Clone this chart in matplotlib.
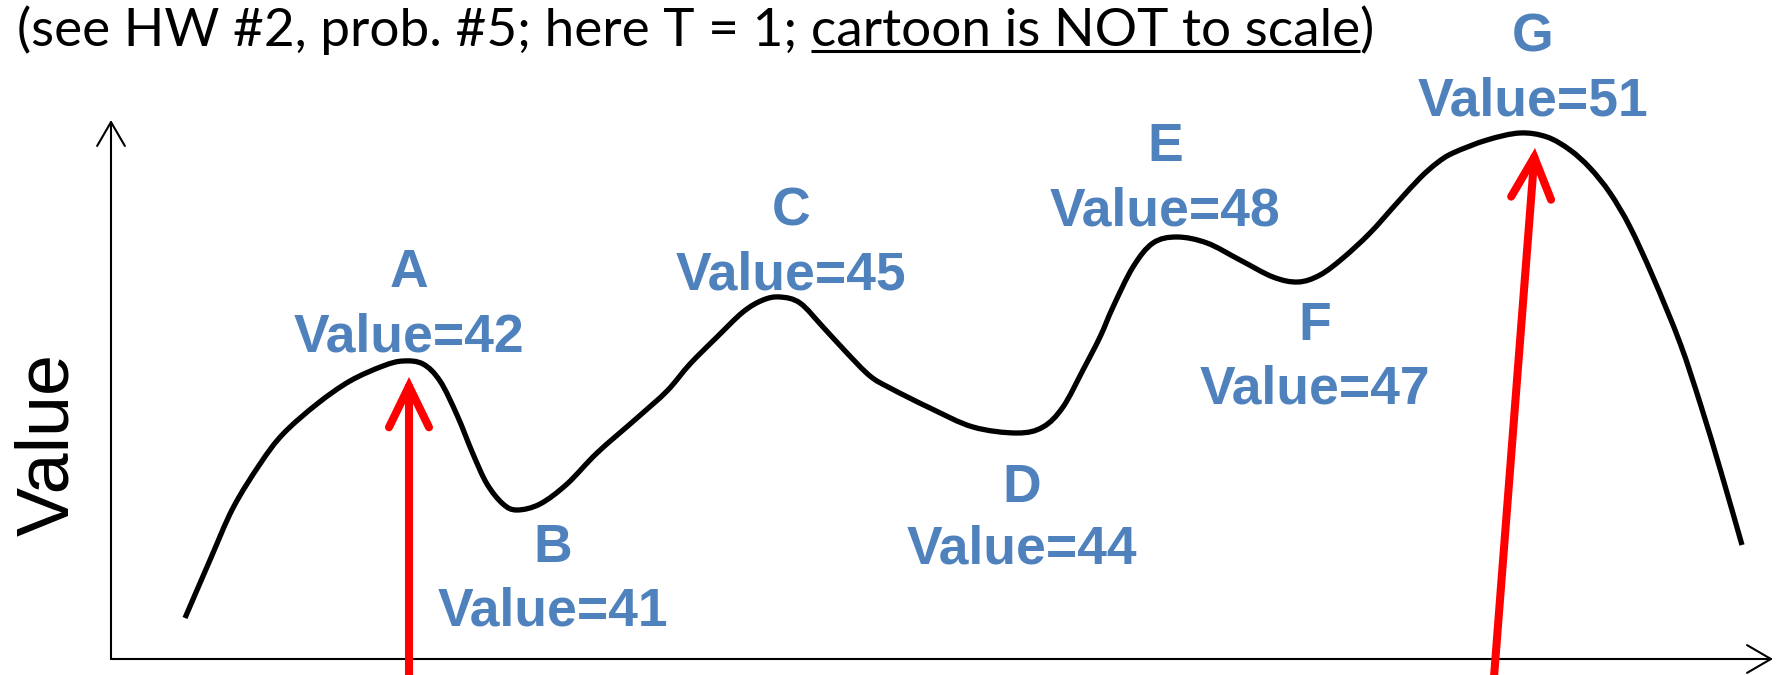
import matplotlib
matplotlib.use('Agg')
import matplotlib.pyplot as plt
from matplotlib.path import Path
from matplotlib.patches import PathPatch

# cartoon curve (x to the right, y downwards as in the image)
curve_x = [185, 210, 233, 260, 283, 317, 350, 383, 403, 423, 440, 457, 473, 487,
           503, 517, 540, 567, 597, 637, 667, 690, 717, 743, 763, 780, 800, 823,
           847, 870, 890, 930, 973, 1017, 1043, 1063, 1083, 1100, 1113, 1133, 1153,
           1177, 1207, 1240, 1273, 1298, 1320, 1343, 1370, 1397, 1420, 1437, 1453,
           1487, 1520, 1547, 1570, 1590, 1610, 1630, 1653, 1680, 1701, 1721, 1742]
curve_y = [618, 560, 508, 464, 434, 404, 381, 366, 361, 364, 381, 415, 454, 484,
           504, 510, 504, 484, 453, 418, 391, 364, 337, 312, 300, 297, 303, 327,
           353, 376, 388, 408, 427, 433, 427, 407, 370, 337, 307, 267, 243,
           237, 243, 260, 277, 282, 275, 258, 233, 203, 178, 163, 153,
           140, 133, 137, 150, 168, 193, 227, 277, 343, 406, 472, 545]

names = ['A', 'B', 'C', 'D', 'E', 'F', 'G']
values = [42, 41, 45, 44, 48, 47, 51]

# label layout (centre x, baseline of letter, baseline of value line)
label_x = [409, 553, 791, 1022, 1165, 1315, 1533]
letter_base = [287, 562, 225, 502, 161, 340, 52]
value_base = [351, 626, 289, 564, 226, 404, 115]

# red arrows: (tail x, tail y) -> (tip x, tip y)
arrow_tail = [(409, 690), (1493, 690)]
arrow_tip = [(409, 377), (1535, 148)]


def smooth_path(xs, ys):
    # Catmull-Rom through the read points, drawn as cubic Bezier pieces
    pts = list(zip(xs, ys))
    verts = [pts[0]]
    codes = [Path.MOVETO]
    n = len(pts)
    for i in range(n - 1):
        p0 = pts[i - 1] if i > 0 else pts[i]
        p1 = pts[i]
        p2 = pts[i + 1]
        p3 = pts[i + 2] if i + 2 < n else pts[i + 1]
        c1 = (p1[0] + (p2[0] - p0[0]) / 6, p1[1] + (p2[1] - p0[1]) / 6)
        c2 = (p2[0] - (p3[0] - p1[0]) / 6, p2[1] - (p3[1] - p1[1]) / 6)
        verts += [c1, c2, p2]
        codes += [Path.CURVE4] * 3
    return Path(verts, codes)


W, H = 1781, 675
fig = plt.figure(figsize=(W / 100, H / 100), dpi=100)
ax = fig.add_axes([0, 0, 1, 1])
ax.set_xlim(0, W)
ax.set_ylim(H, 0)
ax.axis('off')

blue = '#4F81BD'

# axes with open arrow heads
axis_style = '->,head_length=0.86,head_width=0.5'
ax.annotate('', xy=(111, 120), xytext=(111, 659),
            arrowprops=dict(arrowstyle=axis_style, lw=1.5, color='black',
                            shrinkA=0, shrinkB=0, mutation_scale=20))
ax.annotate('', xy=(1773, 659), xytext=(111, 659),
            arrowprops=dict(arrowstyle=axis_style, lw=1.5, color='black',
                            shrinkA=0, shrinkB=0, mutation_scale=20))

ax.add_patch(PathPatch(smooth_path(curve_x, curve_y), facecolor='none',
                       edgecolor='black', lw=3.8, joinstyle='round',
                       capstyle='butt', zorder=3))

for (x0, y0), (x1, y1) in zip(arrow_tail, arrow_tip):
    ax.annotate('', xy=(x1, y1), xytext=(x0, y0),
                arrowprops=dict(arrowstyle='->,head_length=1.48,head_width=0.72',
                                lw=5.8, color='#FF0000', shrinkA=0, shrinkB=0,
                                mutation_scale=20, capstyle='round',
                                joinstyle='miter'), zorder=4)

for n, v, x, yl, yv in zip(names, values, label_x, letter_base, value_base):
    ax.text(x, yl, n, color=blue, fontsize=38.5, fontweight='bold',
            family='Liberation Sans', ha='center', va='baseline')
    ax.text(x, yv, 'Value={}'.format(v), color=blue, fontsize=38.5,
            fontweight='bold', family='Liberation Sans', ha='center', va='baseline')

ax.text(49, 444, 'Value', rotation=90, fontsize=53, family='Liberation Sans',
        ha='center', va='center')

# title line, fitted to the width seen in the picture, part of it underlined
title = '(see HW #2, prob. #5; here T = 1; cartoon is NOT to scale)'
under = 'cartoon is NOT to scale'
tkw = dict(family='Lato', va='baseline', ha='left')
t = ax.text(17, 46, title, fontsize=34, **tkw)
fig.canvas.draw()
r = fig.canvas.get_renderer()
fs = 34 * 1360 / t.get_window_extent(r).width
t.set_fontsize(fs)
fig.canvas.draw()
full = t.get_window_extent(r)
tmp = ax.text(0, 300, under, fontsize=fs, **tkw)
w_under = tmp.get_window_extent(r).width
tmp.remove()
tmp = ax.text(0, 300, ')', fontsize=fs, **tkw)
w_par = tmp.get_window_extent(r).width
tmp.remove()
u1 = full.x1 - w_par
u0 = u1 - w_under
ax.plot([u0, u1], [51, 51], color='black', lw=2.2, solid_capstyle='butt')

fig.savefig('out.png', dpi=100)
